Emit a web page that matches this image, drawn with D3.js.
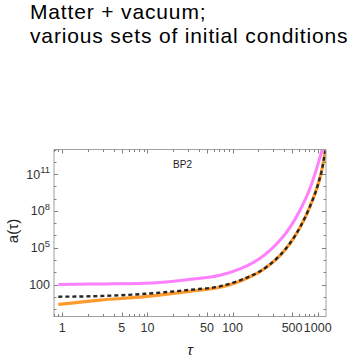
<!DOCTYPE html>
<html>
<head>
<meta charset="utf-8">
<script src="https://cdn.jsdelivr.net/npm/d3@7"></script>
<style>
  body { margin: 0; background: #fff; }
  svg { display: block; font-family: "Liberation Sans", Arial, sans-serif; }
</style>
</head>
<body>
<svg id="chart" width="353" height="362"></svg>
<script>
// Matter + vacuum, BP2 panel: a(tau) for several initial conditions

// Data
const tauPink = [0.9, 2.77, 9.37, 31.6, 71.1, 122, 160, 210, 275, 360, 472, 619, 811, 1062, 1152];
const aPink = [100, 111, 126, 268, 569, 1920, 4470, 1.38e4, 6.17e4, 4.03e5, 4.6e6, 1.12e8, 6.9e9, 2.31e12, 1.7e13];

const tauDash = [0.9, 2.77, 9.37, 31.6, 71.1, 122, 160, 210, 275, 360, 472, 619, 811, 1007, 1122, 1233];
const aDash = [10.3, 11.6, 17.7, 37.5, 72.3, 223, 471, 1205, 4480, 2.42e4, 2.3e5, 4.61e6, 2.37e8, 1.46e10, 2.44e11, 1e13];

const tauOrange = [0.9, 2.77, 9.37, 31.6, 71.1, 122, 160, 210, 275, 360, 472, 619, 811, 1007, 1122, 1233];
const aOrange = [2.4, 5.5, 10.3, 28.3, 60, 185, 430, 1150, 4300, 2.32e4, 2.2e5, 4.4e6, 2.27e8, 1.4e10, 2.35e11, 9.6e12];

const xTickLabels = [1, 5, 10, 50, 100, 500, 1000];
const yTickExps = [2, 5, 8, 11];

// Layout
const svg = d3.select("#chart");
const frame = { left: 54, right: 326, top: 149.5, bottom: 316.5 };

const x = d3.scaleLog().domain([0.8, 1250]).range([frame.left, frame.right]);
const y = d3.scaleLog().domain([Math.pow(10, -0.6), 1e13]).range([frame.bottom, frame.top]);

// Title
const title = svg.append("g")
  .attr("font-size", 21)
  .attr("letter-spacing", 0.85)
  .attr("fill", "#000");
title.append("text").attr("x", 30).attr("y", 19).text("Matter + vacuum;");
title.append("text").attr("x", 30).attr("y", 42.5).text("various sets of initial conditions");

// Clip for curves
svg.append("clipPath").attr("id", "plot-clip")
  .append("rect")
    .attr("x", frame.left)
    .attr("y", frame.top)
    .attr("width", frame.right - frame.left)
    .attr("height", frame.bottom - frame.top);

const line = d3.line()
  .x(d => x(d[0]))
  .y(d => y(d[1]))
  .curve(d3.curveMonotoneX);

const curves = svg.append("g").attr("clip-path", "url(#plot-clip)").attr("fill", "none");

curves.append("path")
  .attr("d", line(d3.zip(tauPink, aPink)))
  .attr("stroke", "#ff80ff")
  .attr("stroke-width", 3);

curves.append("path")
  .attr("d", line(d3.zip(tauOrange, aOrange)))
  .attr("stroke", "#ff9a2e")
  .attr("stroke-width", 3.2);

curves.append("path")
  .attr("d", line(d3.zip(tauDash, aDash)))
  .attr("stroke", "#262626")
  .attr("stroke-width", 2.4)
  .attr("stroke-dasharray", "4,3");

// Frame
svg.append("rect")
  .attr("x", frame.left)
  .attr("y", frame.top)
  .attr("width", frame.right - frame.left)
  .attr("height", frame.bottom - frame.top)
  .attr("fill", "none")
  .attr("stroke", "#a0a0a0")
  .attr("stroke-width", 1);

// Ticks (inside frame, all four sides)
const xMinor = [];
[0.1, 1, 10, 100, 1000].forEach(dec => {
  for (let k = 1; k <= 9; k++) {
    const v = dec * k;
    if (v >= 0.8 && v <= 1250 && !xTickLabels.includes(v)) xMinor.push(v);
  }
});

const ticks = svg.append("g").attr("stroke", "#808080").attr("stroke-width", 1);

function xTick(v, len) {
  const px = Math.round(x(v)) + 0.5;
  ticks.append("line").attr("x1", px).attr("x2", px)
    .attr("y1", frame.bottom).attr("y2", frame.bottom - len);
  ticks.append("line").attr("x1", px).attr("x2", px)
    .attr("y1", frame.top).attr("y2", frame.top + len);
}
xTickLabels.forEach(v => xTick(v, 4));
xMinor.forEach(v => xTick(v, 2.5));

function yTick(e, len) {
  const py = Math.round(y(Math.pow(10, e))) + 0.5;
  ticks.append("line").attr("y1", py).attr("y2", py)
    .attr("x1", frame.left).attr("x2", frame.left + len);
  ticks.append("line").attr("y1", py).attr("y2", py)
    .attr("x1", frame.right).attr("x2", frame.right - len);
}
d3.range(0, 14).forEach(e => yTick(e, yTickExps.includes(e) ? 4 : 2.5));

// Tick labels
const labels = svg.append("g").attr("font-size", 12.5).attr("fill", "#333");

labels.selectAll(".xl")
  .data(xTickLabels)
  .join("text")
    .attr("x", d => x(d))
    .attr("y", 332)
    .attr("text-anchor", "middle")
    .text(d => d);

yTickExps.forEach(e => {
  const t = labels.append("text")
    .attr("x", 50)
    .attr("y", y(Math.pow(10, e)) + 4.5)
    .attr("text-anchor", "end");
  if (e === 2) {
    t.text("100");
  } else {
    t.append("tspan").text("10");
    t.append("tspan").attr("font-size", 9.5).attr("dy", -5.5).text(e);
  }
});

// Axis titles
svg.append("text")
  .attr("transform", "translate(18,231) rotate(-90)")
  .attr("text-anchor", "middle")
  .attr("font-size", 15)
  .attr("fill", "#222")
  .text("a(τ)");

svg.append("text")
  .attr("x", 190)
  .attr("y", 355)
  .attr("text-anchor", "middle")
  .attr("font-size", 15)
  .attr("font-style", "italic")
  .attr("fill", "#222")
  .text("τ");

// Panel label
svg.append("text")
  .attr("x", 182.5)
  .attr("y", 168)
  .attr("text-anchor", "middle")
  .attr("font-size", 10)
  .attr("fill", "#222")
  .text("BP2");
</script>
</body>
</html>
